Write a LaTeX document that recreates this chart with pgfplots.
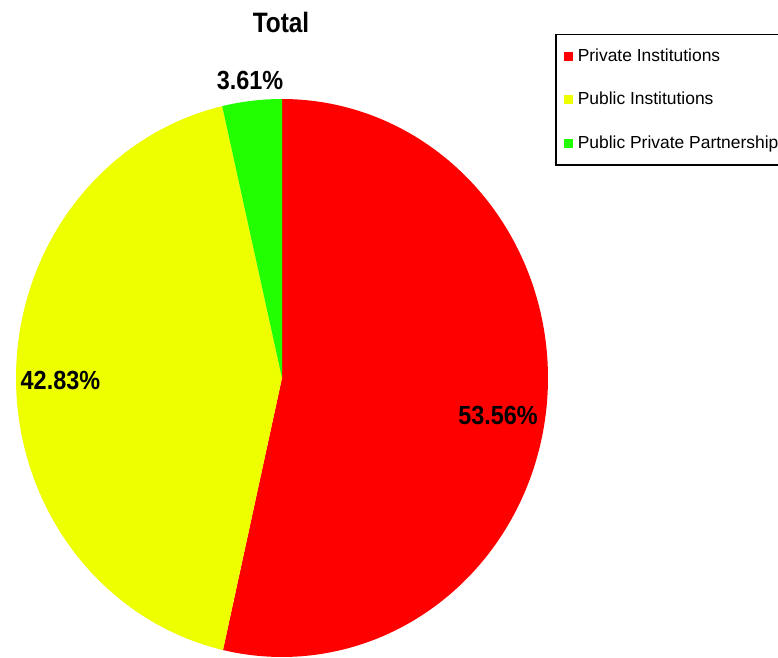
\documentclass[border=0pt]{standalone}
\usepackage{fontspec}
\setmainfont{Liberation Sans}
\usepackage{pgfplots}
\pgfplotsset{compat=1.18}
\usepackage{pgfplotstable}
\definecolor{pred}{RGB}{255,0,0}
\definecolor{pyel}{RGB}{238,255,0}
\definecolor{pgrn}{RGB}{34,255,0}
\pgfplotstableread{
name share
Private 53.56
Public 42.83
PPP 3.61
}\piedata
\pgfplotstablegetelem{0}{share}\of\piedata \let\sA\pgfplotsretval
\pgfplotstablegetelem{1}{share}\of\piedata \let\sB\pgfplotsretval
\pgfplotstablegetelem{2}{share}\of\piedata \let\sC\pgfplotsretval
\pgfmathsetmacro\aA{90}
\pgfmathsetmacro\aB{\aA-\sA*3.6}
\pgfmathsetmacro\aC{\aB-\sB*3.6}
\pgfmathsetmacro\aD{\aC-\sC*3.6}
\newcommand\lbl[1]{\scalebox{1}[1.12]{\bfseries\fontsize{23.5}{26}\selectfont #1}}
\begin{document}
\begin{tikzpicture}
\useasboundingbox (0,0) rectangle (778bp,658bp);
\begin{axis}[
  at={(16bp,1bp)}, anchor=south west,
  scale only axis, width=532bp, height=558bp,
  xmin=-1, xmax=1, ymin=-1, ymax=1,
  hide axis, clip=false,
  legend cell align=left,
  legend image code/.code={\fill[#1, overlay] (-12bp,-4.5bp) rectangle (-3bp,4.5bp); \path (0bp,0bp);},
  legend style={at={(1.0132,1.1165)}, anchor=north west, draw=black, line width=1.5bp,
    inner sep=0pt, inner xsep=20bp, inner ysep=13bp, row sep=26.3bp,
    font=\fontsize{17.5}{20}\selectfont,
    nodes={inner sep=0pt, text height=13.6bp, text depth=3.6bp},
    /tikz/every odd column/.style={column sep=2bp}},
]
\addplot[fill=pred, draw=none, domain=\aB:\aA, samples=150, variable=\t] ({cos(\t)},{sin(\t)}) -- (axis cs:0,0) -- cycle;
\addlegendentry{Private Institutions}
\addplot[fill=pyel, draw=none, domain=\aC:\aB, samples=150, variable=\t] ({cos(\t)},{sin(\t)}) -- (axis cs:0,0) -- cycle;
\addlegendentry{Public Institutions}
\addplot[fill=pgrn, draw=none, domain=\aD:\aC, samples=30, variable=\t] ({cos(\t)},{sin(\t)}) -- (axis cs:0,0) -- cycle;
\addlegendentry{Public Private Partnership}
\node[anchor=base, inner sep=0pt] at (axis cs:-0.12,1.035) {\lbl{3.61\%}};
\node[anchor=base, inner sep=0pt] at (axis cs:-0.833,-0.0405) {\lbl{42.83\%}};
\node[anchor=base, inner sep=0pt] at (axis cs:0.812,-0.168) {\lbl{53.56\%}};
\end{axis}
\node[anchor=base, inner sep=0pt] at (281bp,625.7bp) {\scalebox{1}[1.15]{\bfseries\fontsize{24.5}{28}\selectfont Total}};
\end{tikzpicture}
\end{document}
